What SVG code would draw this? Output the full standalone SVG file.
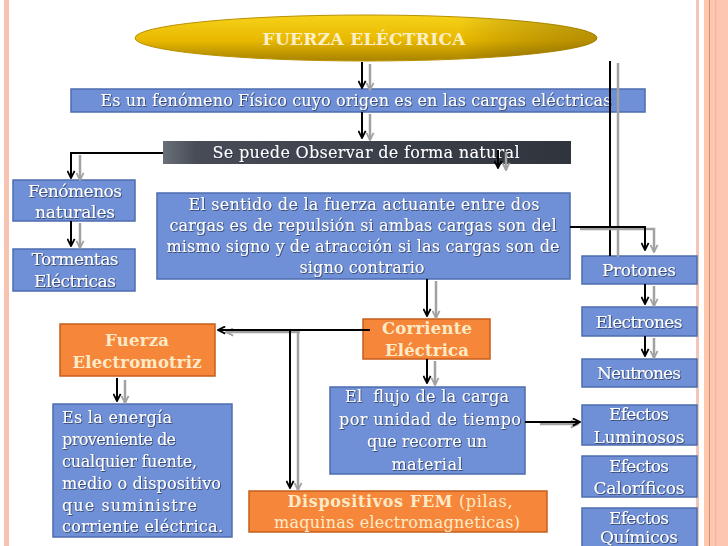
<svg xmlns="http://www.w3.org/2000/svg" width="728" height="546" viewBox="0 0 728 546">
<style>
.blue{fill:#6f90d6;stroke:#4d6cae;stroke-width:1.5}
.orange{fill:#f5863a;stroke:#c65e1c;stroke-width:1.5}
.t{font-family:"DejaVu Serif","Liberation Serif",serif;font-size:16px;fill:#ffffff;filter:url(#sh)}
.s{font-size:17px}
.c{text-anchor:middle}
.ot{font-family:"DejaVu Serif","Liberation Serif",serif;font-size:16.5px;fill:#fdebc8;font-weight:bold;text-anchor:middle}
.bk{fill:none;stroke:#000;stroke-width:2}
.gr{fill:none;stroke:#a2a2a2;stroke-width:2.5}
</style>
<defs>
<filter id="sh" x="-5%" y="-20%" width="110%" height="150%">
<feDropShadow dx="0.8" dy="0.8" stdDeviation="0.4" flood-color="#1c2a4a" flood-opacity="0.85"/>
</filter>
<linearGradient id="gold" x1="0" y1="0" x2="0" y2="1">
<stop offset="0" stop-color="#f6d21a"/>
<stop offset="0.55" stop-color="#e9b800"/>
<stop offset="1" stop-color="#a88300"/>
</linearGradient>
<linearGradient id="goldh" x1="0" y1="0" x2="1" y2="0">
<stop offset="0" stop-color="#000" stop-opacity="0"/>
<stop offset="0.7" stop-color="#000" stop-opacity="0"/>
<stop offset="1" stop-color="#5a4000" stop-opacity="0.35"/>
</linearGradient>
<linearGradient id="dark" x1="0" y1="0" x2="1" y2="0">
<stop offset="0" stop-color="#6a707a"/>
<stop offset="0.08" stop-color="#474c56"/>
<stop offset="1" stop-color="#30343c"/>
</linearGradient>
<marker id="ab" viewBox="0 0 10 10" refX="9" refY="5" markerWidth="9" markerHeight="9" markerUnits="userSpaceOnUse" orient="auto">
<path d="M1,1 L9,5 L1,9" fill="none" stroke="#000" stroke-width="2"/>
</marker>
<marker id="ag" viewBox="0 0 10 10" refX="9" refY="5" markerWidth="9" markerHeight="9" markerUnits="userSpaceOnUse" orient="auto">
<path d="M1,1 L9,5 L1,9" fill="none" stroke="#a2a2a2" stroke-width="2"/>
</marker>
</defs>
<rect x="0" y="0" width="728" height="546" fill="#ffffff"/>
<rect x="4" y="0" width="5" height="546" fill="#f9c3b1"/>
<rect x="696" y="0" width="3" height="546" fill="#f2c6b8"/>
<rect x="704" y="0" width="24" height="546" fill="#fcc6b1"/>
<rect x="709" y="0" width="1" height="546" fill="#d9905f"/>
<rect x="715" y="0" width="1.2" height="546" fill="#f3b69e"/>

<g id="n-fuerza">
<ellipse cx="366" cy="38" rx="231" ry="23" fill="url(#gold)" stroke="#b89000" stroke-width="1"/>
<ellipse cx="366" cy="38" rx="231" ry="23" fill="url(#goldh)"/>
<text x="364" y="45" style="font-family:'DejaVu Serif','Liberation Serif',serif;font-size:17px;font-weight:bold;fill:#fdf0c8;text-anchor:middle" textLength="203">FUERZA ELÉCTRICA</text>
</g>
<g id="n-fenomeno">
<rect class="blue" x="71" y="89" width="574" height="23"/>
<text class="t c" x="356" y="106" textLength="511">Es un fenómeno Físico cuyo origen es en las cargas eléctricas</text>
</g>
<g id="n-observar">
<rect x="163" y="141" width="408" height="23" fill="url(#dark)"/>
<text class="t c" x="366" y="158" textLength="307">Se puede Observar de forma natural</text>
</g>
<g id="n-fenomenos-naturales">
<rect class="blue" x="13" y="180" width="122" height="41"/>
<text class="t s c" x="75" y="197" textLength="94">Fenómenos</text>
<text class="t s c" x="75" y="218" textLength="80">naturales</text>
</g>
<g id="n-tormentas">
<rect class="blue" x="13" y="249" width="122" height="42"/>
<text class="t s c" x="75" y="265" textLength="87">Tormentas</text>
<text class="t s c" x="75" y="287" textLength="82">Eléctricas</text>
</g>
<g id="n-sentido">
<rect class="blue" x="157" y="193" width="413" height="86"/>
<text class="t c" x="364" y="210" textLength="351">El sentido de la fuerza actuante entre dos</text>
<text class="t c" x="363" y="231" textLength="387">cargas es de repulsión si ambas cargas son del</text>
<text class="t c" x="363" y="252" textLength="393">mismo signo y de atracción si las cargas son de</text>
<text class="t c" x="362" y="273" textLength="125">signo contrario</text>
</g>
<g id="n-protones">
<rect class="blue" x="582" y="256" width="115" height="28"/>
<text class="t s c" x="639" y="276" textLength="74">Protones</text>
</g>
<g id="n-electrones">
<rect class="blue" x="582" y="307" width="115" height="29"/>
<text class="t s c" x="639" y="328" textLength="87">Electrones</text>
</g>
<g id="n-neutrones">
<rect class="blue" x="582" y="359" width="115" height="28"/>
<text class="t s c" x="639" y="379" textLength="84">Neutrones</text>
</g>
<g id="n-corriente">
<rect class="orange" x="363" y="319" width="127" height="40"/>
<text class="ot" x="427" y="334" textLength="90">Corriente</text>
<text class="ot" x="427" y="356" textLength="84">Eléctrica</text>
</g>
<g id="n-fem">
<rect class="orange" x="60" y="324" width="155" height="52"/>
<text class="ot" x="137" y="346" textLength="64">Fuerza</text>
<text class="ot" x="137" y="368" textLength="129">Electromotriz</text>
</g>
<g id="n-energia">
<rect class="blue" x="53" y="404" width="179" height="133"/>
<text class="t" x="62" y="423" textLength="110">Es la energía</text>
<text class="t" x="62" y="445" textLength="114">proveniente de</text>
<text class="t" x="62" y="467" textLength="135">cualquier fuente,</text>
<text class="t" x="62" y="489" textLength="159">medio o dispositivo</text>
<text class="t" x="62" y="511" textLength="135">que suministre</text>
<text class="t" x="62" y="532" textLength="161">corriente eléctrica.</text>
</g>
<g id="n-flujo">
<rect class="blue" x="330" y="387" width="195" height="87"/>
<text class="t c" x="427" y="402" textLength="164" xml:space="preserve">El  flujo de la carga</text>
<text class="t c" x="430" y="425" textLength="182">por unidad de tiempo</text>
<text class="t c" x="427" y="447" textLength="120">que recorre un</text>
<text class="t c" x="427" y="470" textLength="71">material</text>
</g>
<g id="n-dispositivos">
<rect class="orange" x="249" y="491" width="298" height="41"/>
<text x="400" y="507" style="font-family:'DejaVu Serif','Liberation Serif',serif;font-size:16px;fill:#fdebc8;text-anchor:middle" textLength="225"><tspan font-weight="bold">Dispositivos FEM</tspan> (pilas,</text>
<text x="397" y="528" style="font-family:'DejaVu Serif','Liberation Serif',serif;font-size:16px;fill:#fdebc8;text-anchor:middle" textLength="246">maquinas electromagneticas)</text>
</g>
<g id="n-luminosos">
<rect class="blue" x="582" y="405" width="115" height="40"/>
<text class="t s c" x="639" y="420" textLength="60">Efectos</text>
<text class="t s c" x="639" y="443" textLength="91">Luminosos</text>
</g>
<g id="n-calorificos">
<rect class="blue" x="582" y="456" width="115" height="41"/>
<text class="t s c" x="639" y="472" textLength="60">Efectos</text>
<text class="t s c" x="639" y="494" textLength="91">Caloríficos</text>
</g>
<g id="n-quimicos">
<rect class="blue" x="582" y="508" width="115" height="40"/>
<text class="t s c" x="639" y="524" textLength="60">Efectos</text>
<text class="t s c" x="639" y="543" textLength="78">Químicos</text>
</g>

<g id="connectors">
<path class="gr" d="M370,64 V90" marker-end="url(#ag)"/>
<path class="bk" d="M362,62 V88" marker-end="url(#ab)"/>
<path class="gr" d="M370,114 V140" marker-end="url(#ag)"/>
<path class="bk" d="M362,112 V138" marker-end="url(#ab)"/>
<path class="gr" d="M80,155 V180" marker-end="url(#ag)"/>
<path class="bk" d="M163,153 H71 V178" marker-end="url(#ab)"/>
<path class="gr" d="M80,223 V248" marker-end="url(#ag)"/>
<path class="bk" d="M71,221 V246" marker-end="url(#ab)"/>
<path class="gr" d="M506,152 V170" marker-end="url(#ag)"/>
<path class="bk" d="M498,150 V168" marker-end="url(#ab)"/>
<path class="gr" d="M618,63 V257"/>
<path class="bk" d="M610,61 V256"/>
<path class="gr" d="M580,229 H654 V252" marker-end="url(#ag)"/>
<path class="bk" d="M570,227 H645 V250" marker-end="url(#ab)"/>
<path class="gr" d="M654,286 V306" marker-end="url(#ag)"/>
<path class="bk" d="M645,284 V304" marker-end="url(#ab)"/>
<path class="gr" d="M654,338 V358" marker-end="url(#ag)"/>
<path class="bk" d="M645,336 V356" marker-end="url(#ab)"/>
<path class="gr" d="M436,281 V318" marker-end="url(#ag)"/>
<path class="bk" d="M427,279 V316" marker-end="url(#ab)"/>
<path class="gr" d="M300,332 H226" marker-end="url(#ag)"/>
<path class="bk" d="M370,330 H218" marker-end="url(#ab)"/>
<path class="gr" d="M298,333 V490" marker-end="url(#ag)"/>
<path class="bk" d="M290,330 V488" marker-end="url(#ab)"/>
<path class="gr" d="M435,361 V385" marker-end="url(#ag)"/>
<path class="bk" d="M427,359 V383" marker-end="url(#ab)"/>
<path class="gr" d="M125,380 V403" marker-end="url(#ag)"/>
<path class="bk" d="M117,378 V401" marker-end="url(#ab)"/>
<path class="gr" d="M540,424 H578" marker-end="url(#ag)"/>
<path class="bk" d="M525,422 H580" marker-end="url(#ab)"/>
</g>
</svg>
